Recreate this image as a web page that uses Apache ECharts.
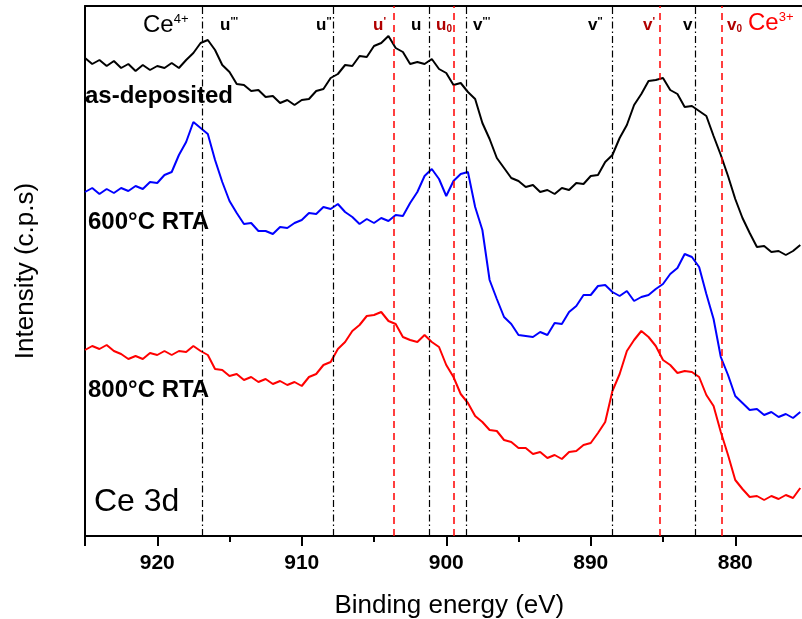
<!DOCTYPE html>
<html>
<head>
<meta charset="utf-8">
<script src="https://cdn.jsdelivr.net/npm/echarts@6/dist/echarts.min.js"></script>
<style>html,body{margin:0;padding:0;background:#fff}#c{width:802px;height:619px}</style>
</head>
<body>
<div id="c"></div>
<script>
// Binding energy grid (eV), shared by the three spectra
const energy = [925.0,924.5,924.0,923.5,923.0,922.5,922.0,921.5,921.0,920.5,920.0,919.5,919.0,918.5,918.0,917.5,917.0,916.5,916.0,915.5,915.0,914.5,914.0,913.5,913.0,912.5,912.0,911.5,911.0,910.5,910.0,909.5,909.0,908.5,908.0,907.5,907.0,906.5,906.0,905.5,905.0,904.5,904.0,903.5,903.0,902.5,902.0,901.5,901.0,900.5,900.0,899.5,899.0,898.5,898.0,897.5,897.0,896.5,896.0,895.5,895.0,894.5,894.0,893.5,893.0,892.5,892.0,891.5,891.0,890.5,890.0,889.5,889.0,888.5,888.0,887.5,887.0,886.5,886.0,885.5,885.0,884.5,884.0,883.5,883.0,882.5,882.0,881.5,881.0,880.5,880.0,879.5,879.0,878.5,878.0,877.5,877.0,876.5,876.0,875.5];

// Intensities (arbitrary units, curves offset as in the figure)
const asDeposited = [478,472,476,470,475,468,472,465,471,466,470,468,473,468,476,483,493,496,486,471,464,452,451,445,446,439,440,433,436,431,436,437,445,447,458,462,471,470,480,479,490,493,500,488,484,472,474,472,477,467,463,451,453,444,437,413,397,378,368,358,355,349,351,344,346,342,348,346,353,352,360,361,374,381,398,411,431,442,455,456,458,446,442,429,430,425,420,400,381,360,337,318,303,289,290,284,285,281,285,291];

const rta600 = [344,348,342,347,343,348,345,350,347,354,353,361,364,381,394,414,408,402,376,354,335,323,312,313,305,305,302,309,308,313,316,323,322,329,327,332,324,319,312,317,313,318,315,321,320,333,344,360,367,357,340,355,362,364,329,306,256,237,219,212,201,200,199,204,201,213,212,224,230,241,241,250,251,244,240,245,235,239,241,247,252,262,268,282,279,269,242,217,179,161,140,133,126,127,121,124,119,122,118,124];

const rta800 = [186,190,187,191,185,182,177,180,177,183,181,185,181,185,184,190,185,181,167,166,160,162,156,159,154,157,152,155,151,154,150,159,162,171,174,187,194,205,211,220,221,224,215,212,199,196,194,201,194,189,171,159,142,133,120,114,106,105,96,94,88,88,82,84,78,81,77,84,85,91,93,103,114,145,162,185,196,205,199,190,176,171,163,165,164,159,141,130,104,81,56,47,39,40,36,40,37,41,38,48];

// Reference peak positions (eV)
const ce4Lines = [916.9, 907.8, 901.2, 898.6, 888.5, 882.8];   // u''', u'', u, v''', v'', v
const ce3Lines = [903.6, 899.5, 885.2, 880.9];                 // u', u0, v', v0

// Axis range and tick step (eV)
const xMin = 870, xMax = 925, xStep = 10;

const pair = (E, I) => E.map((e, i) => [e, I[i]]);

const chart = echarts.init(document.getElementById('c'), null, {renderer: 'canvas'});
const FF = '"Liberation Sans", Arial, sans-serif';

const markLines = [];
ce4Lines.forEach(v => markLines.push({xAxis: v, lineStyle: {color: '#000', width: 1.2, type: [7, 3, 1.5, 3]}}));
ce3Lines.forEach(v => markLines.push({xAxis: v, lineStyle: {color: '#ff0000', width: 1.5, type: [7, 5]}}));

const supS = {fontSize: 11, fontWeight: 'bold', verticalAlign: 'top', lineHeight: 14, fontFamily: FF};
const baseS = {fontSize: 17, fontWeight: 'bold', verticalAlign: 'bottom', lineHeight: 18, fontFamily: FF};
const subS = {fontSize: 10, fontWeight: 'bold', verticalAlign: 'bottom', lineHeight: 8, fontFamily: FF};

function peakLabel(x, base, extra, kind, color) {
  const rich = {b: Object.assign({}, baseS, {fill: color}), s: Object.assign({}, kind === 'sup' ? supS : subS, {fill: color})};
  return {type: 'text', x: x, y: 16, z: 100, style: {text: '{b|' + base + '}{s|' + extra + '}', rich: rich, align: 'left', verticalAlign: 'top', fill: color}};
}

const option = {
  animation: false,
  backgroundColor: '#fff',
  grid: {left: 85, top: 6, width: (xMax - xMin) * 14.45, height: 530, containLabel: false, outerBoundsMode: 'none'},
  xAxis: [{
    type: 'value', position: 'bottom', min: xMin, max: xMax, interval: xStep, inverse: true,
    name: 'Binding energy (eV)', nameLocation: 'middle', nameGap: 57,
    nameTextStyle: {fontSize: 26, fontFamily: FF, color: '#000', padding: [0, 66, 0, 0]},
    axisLine: {show: true, onZero: false, lineStyle: {color: '#000', width: 2}},
    axisTick: {show: true, inside: false, length: 10, lineStyle: {color: '#000', width: 2}},
    minorTick: {show: true, splitNumber: 2, length: 6, lineStyle: {color: '#000', width: 2}},
    axisLabel: {show: true, margin: 17, fontSize: 21, fontWeight: 'bold', fontFamily: FF, color: '#000', showMaxLabel: false, showMinLabel: false},
    splitLine: {show: false}
  }, {
    type: 'value', position: 'top', min: xMin, max: xMax, inverse: true,
    axisLine: {show: true, onZero: false, lineStyle: {color: '#000', width: 2}},
    axisTick: {show: false}, axisLabel: {show: false}, splitLine: {show: false}
  }],
  yAxis: {
    type: 'value', min: 0, max: 530,
    name: 'Intensity (c.p.s)', nameLocation: 'middle', nameGap: 46,
    nameTextStyle: {fontSize: 26, fontFamily: FF, color: '#000'},
    axisLine: {show: true, lineStyle: {color: '#000', width: 2}},
    axisTick: {show: false}, axisLabel: {show: false}, splitLine: {show: false}
  },
  series: [
    {type: 'line', name: 'as-deposited', data: pair(energy, asDeposited), showSymbol: false, symbol: 'none',
     lineStyle: {color: '#000', width: 2}, itemStyle: {color: '#000'},
     markLine: {silent: true, symbol: ['none', 'none'], label: {show: false}, data: markLines}},
    {type: 'line', name: '600°C RTA', data: pair(energy, rta600), showSymbol: false, symbol: 'none',
     lineStyle: {color: '#0000ff', width: 2}, itemStyle: {color: '#0000ff'}},
    {type: 'line', name: '800°C RTA', data: pair(energy, rta800), showSymbol: false, symbol: 'none',
     lineStyle: {color: '#ff0000', width: 2}, itemStyle: {color: '#ff0000'}}
  ],
  graphic: [
    {type: 'text', x: 143, y: 13, z: 100, style: {text: '{c|Ce}{s|4+}', rich: {c: {fontSize: 24, fontFamily: FF, fill: '#000', verticalAlign: 'bottom', lineHeight: 24}, s: {fontSize: 13, fontFamily: FF, fill: '#000', verticalAlign: 'top', lineHeight: 12}}}},
    {type: 'text', x: 748, y: 11, z: 100, style: {text: '{c|Ce}{s|3+}', rich: {c: {fontSize: 24, fontFamily: FF, fill: '#ff0000', verticalAlign: 'bottom', lineHeight: 24}, s: {fontSize: 13, fontFamily: FF, fill: '#ff0000', verticalAlign: 'top', lineHeight: 12}}}},
    peakLabel(220, 'u', "'''", 'sup', '#000'),
    peakLabel(316, 'u', "''", 'sup', '#000'),
    peakLabel(373, 'u', "'", 'sup', '#b00000'),
    peakLabel(411, 'u', '', 'sup', '#000'),
    peakLabel(436, 'u', '0', 'sub', '#b00000'),
    peakLabel(473, 'v', "'''", 'sup', '#000'),
    peakLabel(588, 'v', "''", 'sup', '#000'),
    peakLabel(643, 'v', "'", 'sup', '#b00000'),
    peakLabel(683, 'v', '', 'sup', '#000'),
    peakLabel(727, 'v', '0', 'sub', '#b00000'),
    {type: 'text', x: 85, y: 96, z: 100, style: {text: 'as-deposited', fontSize: 24, fontWeight: 'bold', fontFamily: FF, fill: '#000', align: 'left', verticalAlign: 'middle'}},
    {type: 'text', x: 88, y: 222, z: 100, style: {text: '600°C RTA', fontSize: 24, fontWeight: 'bold', fontFamily: FF, fill: '#000', align: 'left', verticalAlign: 'middle'}},
    {type: 'text', x: 88, y: 390, z: 100, style: {text: '800°C RTA', fontSize: 24, fontWeight: 'bold', fontFamily: FF, fill: '#000', align: 'left', verticalAlign: 'middle'}},
    {type: 'text', x: 94, y: 502, z: 100, style: {text: 'Ce 3d', fontSize: 32, fontFamily: FF, fill: '#000', align: 'left', verticalAlign: 'middle'}}
  ]
};
chart.setOption(option);
</script>
</body>
</html>
